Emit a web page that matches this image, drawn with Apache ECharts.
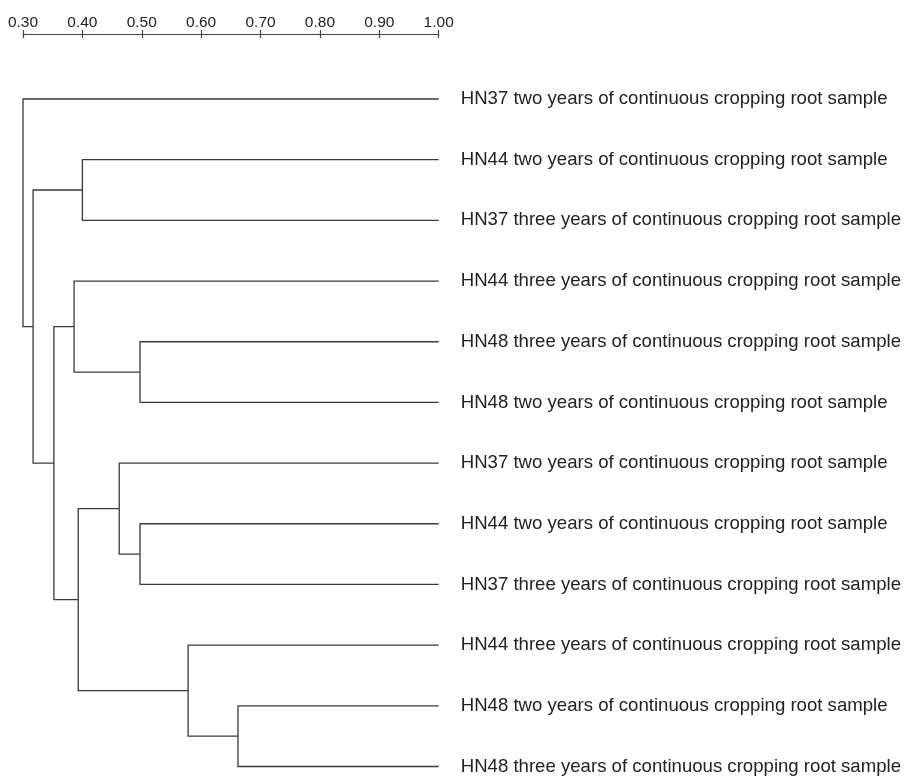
<!DOCTYPE html>
<html>
<head>
<meta charset="utf-8">
<script src="https://cdn.jsdelivr.net/npm/echarts@6/dist/echarts.min.js"></script>
<style>html,body{margin:0;padding:0;background:#fff}#c{width:904px;height:776px}</style>
</head>
<body>
<div id="c"></div>
<script>
// Leaf labels, top to bottom
const leafLabels = [
  'HN37 two years of continuous cropping root sample',
  'HN44 two years of continuous cropping root sample',
  'HN37 three years of continuous cropping root sample',
  'HN44 three years of continuous cropping root sample',
  'HN48 three years of continuous cropping root sample',
  'HN48 two years of continuous cropping root sample',
  'HN37 two years of continuous cropping root sample',
  'HN44 two years of continuous cropping root sample',
  'HN37 three years of continuous cropping root sample',
  'HN44 three years of continuous cropping root sample',
  'HN48 two years of continuous cropping root sample',
  'HN48 three years of continuous cropping root sample'
];
// Leaf similarity value (all leaves at 1.00)
const leafValue = 1.0;
// Merges: node ids 0..11 are leaves, 12.. are merge nodes in this order
const mergeLeft   = [1, 4, 3, 7, 6, 10, 9, 16, 14, 12, 0];
const mergeRight  = [2, 5, 13, 8, 15, 11, 17, 18, 19, 20, 21];
const mergeHeight = [0.400, 0.497, 0.386, 0.497, 0.462, 0.662, 0.578, 0.393, 0.352, 0.317, 0.300];
// Axis tick values
const xMin = 0.30, xMax = 1.00, xStep = 0.10;

// node positions in data space
const nodeX = [], nodeY = [];
leafLabels.forEach((_, i) => { nodeX.push(leafValue); nodeY.push(i); });
const segs = [];
mergeHeight.forEach((h, k) => {
  const a = mergeLeft[k], b = mergeRight[k];
  segs.push([h, nodeX[a], nodeY[a], nodeX[b], nodeY[b]]);
  nodeX.push(h);
  nodeY.push((nodeY[a] + nodeY[b]) / 2);
});

const FONT = "'Liberation Sans', Arial, Helvetica, sans-serif";
const chart = echarts.init(document.getElementById('c'), null, {renderer: 'canvas'});
chart.setOption({
  backgroundColor: '#ffffff',
  animation: false,
  grid: {left: 23, right: 465, top: 99, bottom: 5, containLabel: false},
  xAxis: [{
    type: 'value', position: 'top', offset: 65,
    min: xMin, max: xMax, interval: xStep,
    axisLine: {show: true, onZero: false, lineStyle: {color: '#444', width: 1.2}},
    axisTick: {show: true, length: 4, lineStyle: {color: '#444', width: 1.2}},
    axisLabel: {show: true, margin: 3, color: '#222', fontSize: 15.5, fontFamily: FONT,
      formatter: v => v.toFixed(2)},
    splitLine: {show: false}
  }, {
    type: 'value', position: 'top', offset: 65,
    min: xMin, max: xMax, interval: xStep,
    axisLine: {show: false, onZero: false},
    axisTick: {show: true, inside: true, length: 4, lineStyle: {color: '#444', width: 1.2}},
    axisLabel: {show: false},
    splitLine: {show: false}
  }],
  yAxis: {
    type: 'value', inverse: true, position: 'right',
    min: 0, max: leafLabels.length - 1, interval: 1,
    axisLine: {show: false, onZero: false}, axisTick: {show: false}, splitLine: {show: false},
    axisLabel: {show: true, margin: 22, color: '#222', fontSize: 18.6, fontFamily: FONT,
      showMinLabel: true, showMaxLabel: true,
      formatter: v => leafLabels[v] || ''}
  },
  series: [{
    type: 'custom',
    coordinateSystem: 'cartesian2d',
    clip: false,
    data: segs,
    encode: {x: 0, y: 2},
    renderItem: function (params, api) {
      const h = api.value(0), ax = api.value(1), ay = api.value(2), bx = api.value(3), by = api.value(4);
      const p1 = api.coord([ax, ay]), p2 = api.coord([h, ay]), p3 = api.coord([h, by]), p4 = api.coord([bx, by]);
      return {
        type: 'polyline',
        shape: {points: [p1, p2, p3, p4]},
        style: {stroke: '#3a3a3a', lineWidth: 1.3, fill: null}
      };
    }
  }]
});
</script>
</body>
</html>
